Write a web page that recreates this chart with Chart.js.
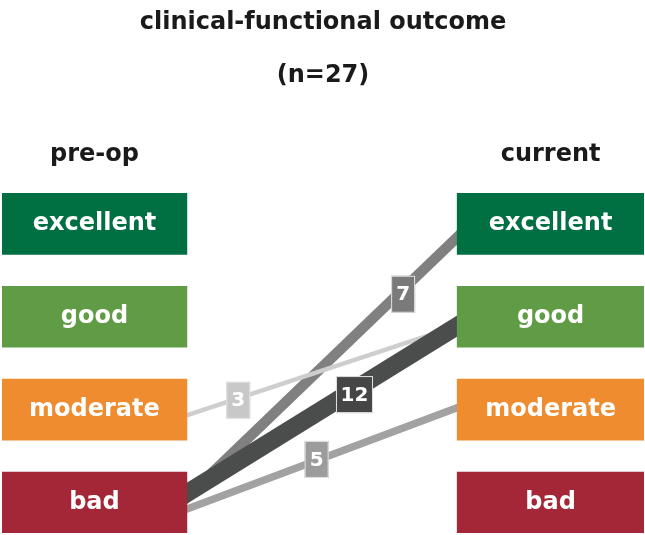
<!DOCTYPE html>
<html>
<head>
<meta charset="utf-8">
<script src="https://cdn.jsdelivr.net/npm/chart.js@4/dist/chart.umd.min.js"></script>
<style>
  html, body { margin: 0; padding: 0; background: #fff; }
  #wrap { width: 645px; height: 535px; }
</style>
</head>
<body>
<div id="wrap"><canvas id="flowChart"></canvas></div>
<script>
// DATA
const titleText = 'clinical-functional outcome';
const subtitleText = '(n=27)';
const columns = ['pre-op', 'current'];
const grades = ['excellent', 'good', 'moderate', 'bad'];
const flowFrom = ['moderate', 'bad', 'bad', 'bad'];
const flowTo = ['good', 'excellent', 'good', 'moderate'];
const flowCount = [3, 7, 12, 5];

// STYLE
const gradeColors = ['#006f41', '#5f9c45', '#ee8c2f', '#a32736'];
const flowColors = ['#cecece', '#808080', '#4b4d4c', '#a2a2a2'];
const tagColors = ['#c8c8c8', '#7a7a7a', '#464646', '#9c9c9c'];
const flowOrder = [3, 5, 2, 4];          // lower = drawn on top
const fromNudge = [0.06, -0.06, -0.10, 0.07];
const toNudge = [0.10, 0.145, 0.10, -0.02];
const tagAt = [0.19, 0.80, 0.62, 0.48];  // where the count sits along its line
const tagDrop = [2, 5, 5, -1];           // px below the line centre
const colSpan = [[0, 0.288], [0.709, 1]];
const pxPerCount = 1.5;
const ink = '#1a1a1a';
const face = '"DejaVu Sans"';

Chart.defaults.font.family = face;

const rowOf = name => grades.indexOf(name);

// boxes
const boxSets = columns.map((col, c) => ({
  type: 'bar',
  label: col,
  indexAxis: 'y',
  data: grades.map((g, i) => ({ y: i, x: colSpan[c] })),
  backgroundColor: gradeColors,
  grouped: false,
  barThickness: 61,
  borderWidth: 0,
  order: 0
}));

// flow lines, pushed a little into the boxes so the ends stay square
const flowSets = flowCount.map((n, k) => {
  const x0 = colSpan[0][1], x1 = colSpan[1][0];
  const y0 = rowOf(flowFrom[k]) + fromNudge[k];
  const y1 = rowOf(flowTo[k]) + toNudge[k];
  const slope = (y1 - y0) / (x1 - x0);
  const ext = 0.03;
  return {
    type: 'line',
    label: flowFrom[k] + ' → ' + flowTo[k],
    data: [{ x: x0 - ext, y: y0 - slope * ext }, { x: x1 + ext, y: y1 + slope * ext }],
    edge: [x0, y0, x1, y1],
    borderColor: flowColors[k],
    borderWidth: n * pxPerCount,
    borderCapStyle: 'butt',
    pointRadius: 0,
    fill: false,
    tension: 0,
    order: flowOrder[k]
  };
});

// count tags + box captions
const tagPlugin = {
  id: 'tags',
  afterDatasetsDraw(chart) {
    const ctx = chart.ctx;
    const xs = chart.scales.x, ys = chart.scales.y;
    ctx.save();
    ctx.textAlign = 'center';
    ctx.textBaseline = 'middle';

    // captions in boxes
    ctx.fillStyle = '#ffffff';
    ctx.font = 'bold 24px ' + face;
    columns.forEach((col, c) => {
      chart.getDatasetMeta(c).data.forEach((bar, i) => {
        const p = bar.getCenterPoint();
        ctx.fillText(grades[i], p.x, p.y);
      });
    });

    // count tags
    flowSets.forEach((ds, k) => {
      const [x0, y0, x1, y1] = ds.edge;
      const t = tagAt[k];
      const px = xs.getPixelForValue(x0 + (x1 - x0) * t);
      const py = ys.getPixelForValue(y0 + (y1 - y0) * t) + tagDrop[k];
      const txt = String(flowCount[k]);
      const w = txt.length > 1 ? 37 : 24, h = 37;
      ctx.fillStyle = tagColors[k];
      ctx.fillRect(px - w / 2, py - h / 2, w, h);
      ctx.strokeStyle = '#e4e4e4';
      ctx.lineWidth = 1;
      ctx.strokeRect(px - w / 2 + 0.5, py - h / 2 + 0.5, w - 1, h - 1);
      ctx.fillStyle = '#ffffff';
      ctx.font = 'bold 20px ' + face;
      ctx.fillText(txt, px, py + 1);
    });
    ctx.restore();
  }
};

const colCenters = colSpan.map(s => (s[0] + s[1]) / 2);

new Chart(document.getElementById('flowChart'), {
  data: { datasets: [...boxSets, ...flowSets] },
  options: {
    responsive: true,
    maintainAspectRatio: false,
    animation: false,
    layout: { padding: { left: 2, right: 1, top: 0, bottom: 2 } },
    scales: {
      x: {
        type: 'linear',
        position: 'top',
        min: 0,
        max: 1,
        offset: false,
        grid: { display: false, drawTicks: false },
        border: { display: false },
        afterBuildTicks: axis => { axis.ticks = colCenters.map(v => ({ value: v })); },
        ticks: {
          autoSkip: false,
          maxRotation: 0,
          padding: 8,
          color: ink,
          font: { size: 24, weight: 'bold' },
          callback: (v, i) => columns[i]
        }
      },
      y: {
        type: 'linear',
        reverse: true,
        offset: false,
        min: -0.5,
        max: 3.328,
        display: false
      }
    },
    plugins: {
      legend: { display: false },
      tooltip: { enabled: false },
      title: {
        display: true,
        text: titleText,
        color: ink,
        font: { size: 24, weight: 'bold' },
        padding: { top: 8, bottom: 0 }
      },
      subtitle: {
        display: true,
        text: subtitleText,
        color: ink,
        font: { size: 24, weight: 'bold' },
        padding: { top: 25, bottom: 42 }
      }
    }
  },
  plugins: [tagPlugin]
});
</script>
</body>
</html>
